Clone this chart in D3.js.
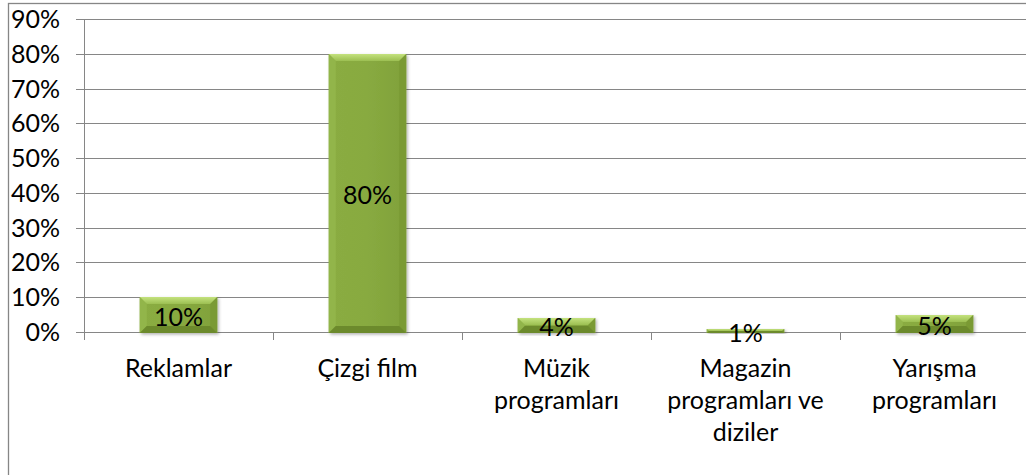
<!DOCTYPE html>
<html>
<head>
<meta charset="utf-8">
<script src="https://cdn.jsdelivr.net/npm/d3@7/dist/d3.min.js"></script>
<style>
  html, body { margin: 0; padding: 0; background: #fff; }
  svg { display: block; }
  text { font-family: Lato, "Noto Sans", sans-serif; fill: #000; }
</style>
</head>
<body>
<svg id="chart" width="1026" height="475"></svg>
<script>
const categories = ["Reklamlar", "Çizgi film", "Müzik programları", "Magazin programları ve diziler", "Yarışma programları"];
const values = [10, 80, 4, 1, 5];
const yTicks = [0, 10, 20, 30, 40, 50, 60, 70, 80, 90];

const W = 1026, H = 475;
const plot = { left: 84, right: 1029, top: 19, bottom: 332 };
const fontSize = 25;
const gridColor = "#868686";

const svg = d3.select("#chart");

// chart border
svg.append("rect")
  .attr("x", 8.5).attr("y", 3.5)
  .attr("width", 1100).attr("height", 600)
  .attr("fill", "none").attr("stroke", gridColor).attr("stroke-width", 1.3);

const x = d3.scaleBand().domain(categories)
  .range([plot.left, plot.right]).paddingInner(0.59).paddingOuter(0.295);
const y = d3.scaleLinear().domain([0, 90]).range([plot.bottom, plot.top]).interpolate(d3.interpolateRound);
const xb = d3.scaleLinear().domain([0, categories.length]).range([plot.left, plot.right]);

// gridlines
svg.append("g").selectAll("line").data(yTicks).join("line")
  .attr("x1", plot.left).attr("x2", W)
  .attr("y1", d => y(d) + 0.5).attr("y2", d => y(d) + 0.5)
  .attr("stroke", gridColor).attr("stroke-width", 1);

// y axis
const yAxis = svg.append("g").attr("transform", `translate(${plot.left},0)`)
  .call(d3.axisLeft(y).tickValues(yTicks).tickFormat(d => d + "%").tickSizeInner(8).tickSizeOuter(0).tickPadding(16));
yAxis.select(".domain").attr("stroke", gridColor);
yAxis.selectAll(".tick line").attr("stroke", gridColor);
yAxis.selectAll(".tick text").attr("font-size", fontSize).attr("font-family", "Lato").attr("fill", "#000");

// x axis (boundary ticks)
const xAxis = svg.append("g").attr("transform", `translate(0,${plot.bottom})`)
  .call(d3.axisBottom(xb).tickValues(d3.range(categories.length + 1)).tickFormat("").tickSizeInner(8).tickSizeOuter(0));
xAxis.select(".domain").attr("stroke", gridColor);
xAxis.selectAll(".tick line").attr("stroke", gridColor);

// defs
const defs = svg.append("defs");
const sh = defs.append("filter").attr("id", "shadow").attr("x", "-20%").attr("y", "-20%").attr("width", "140%").attr("height", "140%");
sh.append("feDropShadow").attr("dx", 1.5).attr("dy", 1.5).attr("stdDeviation", 1.5).attr("flood-color", "#000").attr("flood-opacity", 0.3);
const gTop = defs.append("linearGradient").attr("id", "gtop").attr("x1", 0).attr("y1", 0).attr("x2", 0).attr("y2", 1);
gTop.append("stop").attr("offset", 0).attr("stop-color", "#c4e27e");
gTop.append("stop").attr("offset", 1).attr("stop-color", "#9cbf52");
const gMain = defs.append("linearGradient").attr("id", "gmain").attr("x1", 0).attr("y1", 0).attr("x2", 1).attr("y2", 0);
gMain.append("stop").attr("offset", 0).attr("stop-color", "#8aac42");
gMain.append("stop").attr("offset", 0.5).attr("stop-color", "#88aa40");
gMain.append("stop").attr("offset", 1).attr("stop-color", "#80a13a");

// bars
const bars = svg.append("g").selectAll("g").data(values).join("g");
bars.each(function(v, i) {
  const g = d3.select(this);
  const x0 = x(categories[i]), x1 = x0 + x.bandwidth();
  const y0 = y(v), y1 = y(0) + 1;
  const h = y1 - y0, w = x1 - x0;
  const b = Math.min(7, h / 2);
  g.append("rect").attr("x", x0).attr("y", y0).attr("width", w).attr("height", h)
    .attr("fill", "url(#gmain)").attr("filter", "url(#shadow)");
  g.append("polygon").attr("points", [[x0, y0], [x1, y0], [x1 - b, y0 + b], [x0 + b, y0 + b]].map(p => p.join(",")).join(" "))
    .attr("fill", "url(#gtop)");
  g.append("polygon").attr("points", [[x0, y0], [x0 + b, y0 + b], [x0 + b, y1 - b], [x0, y1]].map(p => p.join(",")).join(" "))
    .attr("fill", "#92b54a");
  g.append("polygon").attr("points", [[x1, y0], [x1 - b, y0 + b], [x1 - b, y1 - b], [x1, y1]].map(p => p.join(",")).join(" "))
    .attr("fill", "#7a9a34");
  g.append("polygon").attr("points", [[x0, y1], [x0 + b, y1 - b], [x1 - b, y1 - b], [x1, y1]].map(p => p.join(",")).join(" "))
    .attr("fill", "#6c8a2c");
});

// value labels
svg.append("g").selectAll("text").data(values).join("text")
  .attr("x", (d, i) => x(categories[i]) + x.bandwidth() / 2)
  .attr("y", d => (y(d) + y(0)) / 2 + 1)
  .attr("text-anchor", "middle").attr("dominant-baseline", "central")
  .attr("font-size", fontSize)
  .text(d => d + "%");

// category labels with wrapping
const labelG = svg.append("g");
categories.forEach((c, i) => {
  const cx = x(c) + x.bandwidth() / 2;
  const t = labelG.append("text").attr("x", cx).attr("y", 367)
    .attr("text-anchor", "middle").attr("dominant-baseline", "central").attr("font-size", fontSize);
  const words = c.split(" ");
  let line = [];
  let ts = t.append("tspan").attr("x", cx).attr("dy", 0);
  words.forEach(wd => {
    line.push(wd);
    ts.text(line.join(" "));
    if (ts.node().getComputedTextLength() > 172 && line.length > 1) {
      line.pop();
      ts.text(line.join(" "));
      line = [wd];
      ts = t.append("tspan").attr("x", cx).attr("dy", 32).text(wd);
    }
  });
});
</script>
</body>
</html>
